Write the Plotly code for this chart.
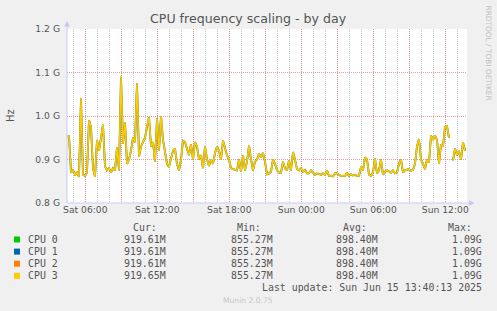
import pandas as pd
import plotly.graph_objects as go

# ---------------- data ----------------
start_time = "2025-06-14 04:28:30"   # left edge of the graph
step = "10min"
freq_g = [
    0.95, 0.955, 0.87, 0.875, 0.865, 0.87, 0.86, 1.04, 0.865, 0.862,
    0.87, 0.99, 0.975, 0.88, 0.86, 0.945, 0.92, 0.95, 0.98, 0.885,
    0.875, 0.88, 0.87, 0.88, 0.875, 0.928, 0.875, 1.09, 0.937, 0.985,
    0.89, 0.9, 0.92, 0.95, 0.94, 1.075, 0.906, 0.93, 0.94, 0.95,
    0.975, 0.997, 0.93, 0.94, 0.895, 0.995, 0.92, 1.0, 0.945, 0.92,
    0.89, 0.883, 0.9, 0.92, 0.925, 0.89, 0.875, 0.9, 0.943, 0.94,
    0.925, 0.91, 0.935, 0.9, 0.94, 0.93, 0.9, 0.91, 0.88, 0.93,
    0.9, 0.885, 0.9, 0.89, 0.915, 0.93, 0.92, 0.9, 0.944, 0.925,
    0.91, 0.9, 0.88, 0.878, 0.876, 0.875, 0.9, 0.872, 0.91, 0.875,
    0.895, 0.932, 0.9, 0.875, 0.895, 0.9, 0.913, 0.905, 0.915, 0.895,
    0.866, 0.868, 0.872, 0.9, 0.89, 0.875, 0.87, 0.87, 0.895, 0.88,
    0.875, 0.898, 0.875, 0.917, 0.9, 0.878, 0.875, 0.88, 0.872, 0.876,
    0.868, 0.868, 0.875, 0.87, 0.865, 0.868, 0.866, 0.865, 0.868, 0.865,
    0.875, 0.862, 0.863, 0.861, 0.868, 0.868, 0.865, 0.862, 0.863, 0.862,
    0.87, 0.862, 0.866, 0.863, 0.865, 0.862, 0.862, 0.883, 0.875, 0.905,
    0.9, 0.865, 0.862, 0.87, 0.902, 0.868, 0.875, 0.9, 0.865, 0.872,
    0.875, 0.872, 0.87, 0.875, 0.868, 0.87, 0.89, 0.9, 0.87, 0.875,
    0.876, 0.878, 0.874, 0.876, 0.89, 0.93, 0.947, 0.9, 0.89, 0.878,
    0.9, 0.893, 0.955, 0.945, 0.955, 0.945, 0.89, 0.935, 0.93, 0.975,
    0.977, 0.95, None, 0.898, 0.925, 0.91, 0.92, 0.9, 0.94, 0.92,
]
cpu_names = ["CPU 0", "CPU 1", "CPU 2", "CPU 3"]
cpu_colors = ["#00cc00", "#0066b3", "#ff8000", "#ffcc00"]
cur_vals = ["919.61M", "919.61M", "919.61M", "919.65M"]
min_vals = ["855.27M", "855.27M", "855.23M", "855.27M"]
avg_vals = ["898.40M", "898.40M", "898.40M", "898.40M"]
max_vals = ["1.09G", "1.09G", "1.09G", "1.09G"]
y_ticks = [0.8, 0.9, 1.0, 1.1, 1.2]
y_labels = ["0.8 G", "0.9 G", "1.0 G", "1.1 G", "1.2 G"]
title = "CPU frequency scaling - by day"
last_update = "Last update: Sun Jun 15 13:40:13 2025"

# ---------------- geometry ----------------
W, H = 497, 311
L, R, T, B = 67, 467, 29, 203


def px(x):
    return (x - L) / (R - L)


def py(y):
    return (B - y) / (B - T)


times = pd.date_range(start_time, periods=len(freq_g), freq=step)
x0 = pd.Timestamp(start_time)
x1 = x0 + pd.Timedelta(minutes=5 * (R - L))

major = pd.date_range("2025-06-14 06:00", "2025-06-15 12:00", freq="3h")
major_text = [
    (("Sat" if t.day == 14 else "Sun") + t.strftime(" %H:%M")) if t.hour % 6 == 0 else ""
    for t in major
]
minor = pd.date_range("2025-06-14 05:00", "2025-06-15 13:00", freq="1h")

TXT = "#555555"
SANS = "DejaVu Sans"
MONO = "DejaVu Sans Mono"
RED_GRID = "rgba(225,120,120,0.75)"
GRAY_GRID = "rgba(190,190,190,0.8)"
AXIS = "#c8c8f4"

fig = go.Figure()
widths = [1.8, 1.8, 1.8, 1.35]
opac = [0.7, 0.45, 0.6, 1.0]
for i, (name, col) in enumerate(zip(cpu_names, cpu_colors)):
    fig.add_trace(go.Scatter(
        x=times, y=freq_g, mode="lines", name=name,
        line=dict(color=col, width=widths[i]),
        opacity=opac[i],
        showlegend=False, hoverinfo="skip",
    ))

fig.update_layout(
    width=W, height=H,
    margin=dict(l=L, r=W - R, t=T, b=H - B, pad=0),
    paper_bgcolor="#f0f0f0", plot_bgcolor="#ffffff",
    showlegend=False,
    xaxis=dict(
        range=[x0, x1], tickmode="array", tickvals=list(major), ticktext=major_text,
        showgrid=True, gridcolor=RED_GRID, griddash="1px,1px", gridwidth=1,
        minor=dict(tickvals=list(minor), showgrid=True, gridcolor=GRAY_GRID,
                   griddash="1px,1px", gridwidth=1),
        tickfont=dict(family=SANS, size=9.2, color=TXT),
        ticks="", showline=False, zeroline=False, fixedrange=True,
    ),
    yaxis=dict(
        range=[0.8, 1.2], tickmode="array", tickvals=y_ticks, ticktext=y_labels,
        showgrid=True, gridcolor=RED_GRID, griddash="1px,1px", gridwidth=1,
        tickfont=dict(family=SANS, size=9.2, color=TXT),
        ticks="", ticklabelstandoff=6, showline=False, zeroline=False, fixedrange=True,
    ),
)

shapes = []
# axes with arrows
shapes.append(dict(type="line", xref="paper", yref="paper",
                   x0=px(67), x1=px(67), y0=py(203), y1=py(24),
                   line=dict(color=AXIS, width=1)))
shapes.append(dict(type="line", xref="paper", yref="paper",
                   x0=px(67), x1=px(471), y0=py(203), y1=py(203),
                   line=dict(color=AXIS, width=1)))
shapes.append(dict(type="path", xref="paper", yref="paper",
                   path=f"M {px(64)} {py(26.5)} L {px(70)} {py(26.5)} L {px(67)} {py(21)} Z",
                   fillcolor=AXIS, line=dict(width=0)))
shapes.append(dict(type="path", xref="paper", yref="paper",
                   path=f"M {px(469)} {py(200)} L {px(469)} {py(206)} L {px(474.5)} {py(203)} Z",
                   fillcolor=AXIS, line=dict(width=0)))
# legend swatches
for i, col in enumerate(cpu_colors):
    yc = 239.5 + 12.1 * i
    shapes.append(dict(type="rect", xref="paper", yref="paper",
                       x0=px(14), x1=px(20), y0=py(yc + 3), y1=py(yc - 3),
                       fillcolor=col, line=dict(width=0)))
fig.update_layout(shapes=shapes)

ann = []


def text(x, y, s, size, family=SANS, color=TXT, xanchor="left", angle=0):
    ann.append(dict(x=px(x), y=py(y), xref="paper", yref="paper", text=s,
                    showarrow=False, xanchor=xanchor, yanchor="middle",
                    textangle=angle, borderpad=0,
                    font=dict(family=family, size=size, color=color)))


text(248.5, 19, title, 12.6, xanchor="center")
text(11, 115, "Hz", 10, xanchor="center", angle=-90)
text(488, 52.5, "RRDTOOL / TOBI OETIKER", 7.4, color="#c0c0c0", xanchor="center", angle=90)

hdr_y = 227.7
text(132, hdr_y, "Cur:", 9.9, MONO)
text(236, hdr_y, "Min:", 9.9, MONO)
text(341.7, hdr_y, "Avg:", 9.9, MONO)
text(446.7, hdr_y, "Max:", 9.9, MONO)
for i, name in enumerate(cpu_names):
    yc = 239.5 + 12.1 * i
    text(26.7, yc, name, 9.9, MONO)
    text(166.9, yc, cur_vals[i], 9.9, MONO, xanchor="right")
    text(274.2, yc, min_vals[i], 9.9, MONO, xanchor="right")
    text(378.5, yc, avg_vals[i], 9.9, MONO, xanchor="right")
    text(482.5, yc, max_vals[i], 9.9, MONO, xanchor="right")
text(482.5, 287.7, last_update, 9.9, MONO, xanchor="right")
text(247.5, 300, "Munin 2.0.75", 7.6, color="#c8c8c8", xanchor="center")

fig.update_layout(annotations=ann)
fig.write_html("out.html")
